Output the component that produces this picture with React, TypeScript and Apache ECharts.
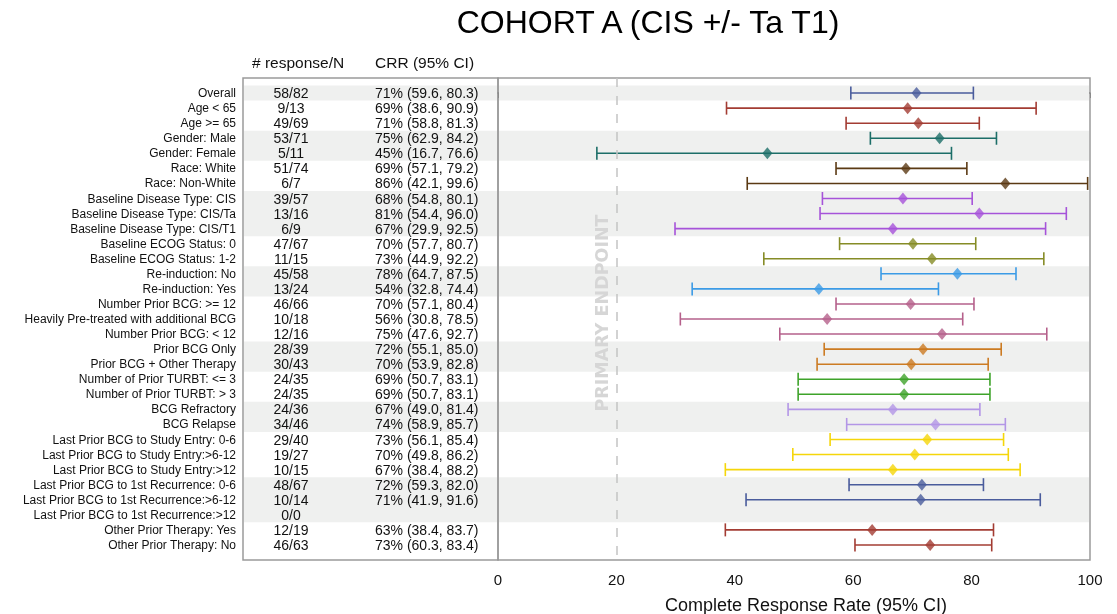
import React, { useEffect, useRef } from "react";
import * as echarts from "echarts";

const rowLabels = [
  "Overall",
  "Age < 65",
  "Age >= 65",
  "Gender: Male",
  "Gender: Female",
  "Race: White",
  "Race: Non-White",
  "Baseline Disease Type: CIS",
  "Baseline Disease Type: CIS/Ta",
  "Baseline Disease Type: CIS/T1",
  "Baseline ECOG Status: 0",
  "Baseline ECOG Status: 1-2",
  "Re-induction: No",
  "Re-induction: Yes",
  "Number Prior BCG: >= 12",
  "Heavily Pre-treated with additional BCG",
  "Number Prior BCG: < 12",
  "Prior BCG Only",
  "Prior BCG + Other Therapy",
  "Number of Prior TURBT: <= 3",
  "Number of Prior TURBT: > 3",
  "BCG Refractory",
  "BCG Relapse",
  "Last Prior BCG to Study Entry: 0-6",
  "Last Prior BCG to Study Entry:>6-12",
  "Last Prior BCG to Study Entry:>12",
  "Last Prior BCG to 1st Recurrence: 0-6",
  "Last Prior BCG to 1st Recurrence:>6-12",
  "Last Prior BCG to 1st Recurrence:>12",
  "Other Prior Therapy: Yes",
  "Other Prior Therapy: No",
];

const responders = [
  "58/82", "9/13", "49/69", "53/71", "5/11", "51/74", "6/7", "39/57", "13/16", "6/9",
  "47/67", "11/15", "45/58", "13/24", "46/66", "10/18", "12/16", "28/39", "30/43", "24/35",
  "24/35", "24/36", "34/46", "29/40", "19/27", "10/15", "48/67", "10/14", "0/0", "12/19", "46/63",
];

const crrText = [
  "71% (59.6, 80.3)", "69% (38.6, 90.9)", "71% (58.8, 81.3)", "75% (62.9, 84.2)", "45% (16.7, 76.6)",
  "69% (57.1, 79.2)", "86% (42.1, 99.6)", "68% (54.8, 80.1)", "81% (54.4, 96.0)", "67% (29.9, 92.5)",
  "70% (57.7, 80.7)", "73% (44.9, 92.2)", "78% (64.7, 87.5)", "54% (32.8, 74.4)", "70% (57.1, 80.4)",
  "56% (30.8, 78.5)", "75% (47.6, 92.7)", "72% (55.1, 85.0)", "70% (53.9, 82.8)", "69% (50.7, 83.1)",
  "69% (50.7, 83.1)", "67% (49.0, 81.4)", "74% (58.9, 85.7)", "73% (56.1, 85.4)", "70% (49.8, 86.2)",
  "67% (38.4, 88.2)", "72% (59.3, 82.0)", "71% (41.9, 91.6)", "", "63% (38.4, 83.7)", "73% (60.3, 83.4)",
];

const estimates = [
  70.7, 69.2, 71.0, 74.6, 45.5, 68.9, 85.7, 68.4, 81.3, 66.7,
  70.1, 73.3, 77.6, 54.2, 69.7, 55.6, 75.0, 71.8, 69.8, 68.6,
  68.6, 66.7, 73.9, 72.5, 70.4, 66.7, 71.6, 71.4, null, 63.2, 73.0,
];
const lowerCI = [
  59.6, 38.6, 58.8, 62.9, 16.7, 57.1, 42.1, 54.8, 54.4, 29.9,
  57.7, 44.9, 64.7, 32.8, 57.1, 30.8, 47.6, 55.1, 53.9, 50.7,
  50.7, 49.0, 58.9, 56.1, 49.8, 38.4, 59.3, 41.9, null, 38.4, 60.3,
];
const upperCI = [
  80.3, 90.9, 81.3, 84.2, 76.6, 79.2, 99.6, 80.1, 96.0, 92.5,
  80.7, 92.2, 87.5, 74.4, 80.4, 78.5, 92.7, 85.0, 82.8, 83.1,
  83.1, 81.4, 85.7, 85.4, 86.2, 88.2, 82.0, 91.6, null, 83.7, 83.4,
];

const groupSizes = [1, 2, 2, 2, 3, 2, 2, 3, 2, 2, 2, 3, 3, 2];
const groupColors = [
  "#4a5c9c", "#a33c33", "#1c6e68", "#5b3a14", "#a653d9", "#868c26", "#3b9be6",
  "#b5608b", "#cc7b22", "#3ea32a", "#b396e6", "#f5d60a", "#4a5c9c", "#a33c33",
];

const xTicks = [0, 20, 40, 60, 80, 100];
const refLine = 20;

const FONT = "'Liberation Sans', Arial, sans-serif";
const TABLE_LEFT = 243;
const PLOT_LEFT = 498;
const PLOT_RIGHT = 1090;
const TOP = 78;
const BOTTOM = 560;
const BAND = "#eff0ef";

export default function App() {
  const ref = useRef<HTMLDivElement>(null);
  useEffect(() => {
    if (!ref.current) return;
    const chart = echarts.init(ref.current, undefined, { renderer: "svg" });

    const rowColors: string[] = [];
    const bands: number[][] = [];
    let start = 0;
    groupSizes.forEach((n, g) => {
      for (let k = 0; k < n; k++) rowColors.push(groupColors[g]);
      if (g % 2 === 0) bands.push([start, start + n - 1]);
      start += n;
    });
    const nRows = rowLabels.length;

    const ciData: any[] = [];
    const ptData: any[] = [];
    for (let i = 0; i < nRows; i++) {
      if (lowerCI[i] != null && upperCI[i] != null) ciData.push([i, lowerCI[i], upperCI[i]]);
      if (estimates[i] != null)
        ptData.push({ value: [estimates[i], i], itemStyle: { color: rowColors[i] } });
    }
    const textData = rowLabels.map((_, i) => [i]);

    const option: any = {
      animation: false,
      textStyle: { fontFamily: FONT },
      grid: [
        {
          left: PLOT_LEFT, top: TOP, width: PLOT_RIGHT - PLOT_LEFT, height: BOTTOM - TOP,
          show: true, borderColor: "#9a9a9a", borderWidth: 1.5, backgroundColor: "transparent",
          containLabel: false, outerBoundsMode: "none",
        },
        {
          left: TABLE_LEFT, top: TOP, width: PLOT_LEFT - TABLE_LEFT, height: BOTTOM - TOP,
          show: true, borderColor: "#9a9a9a", borderWidth: 1.5, backgroundColor: "transparent",
          containLabel: false, outerBoundsMode: "none",
        },
      ],
      xAxis: [
        {
          gridIndex: 0, type: "value", min: 0, max: 100, interval: 10,
          axisLine: { show: true, lineStyle: { color: "#8a8a8a", width: 1.5 } },
          axisTick: { show: true, length: 5, lineStyle: { color: "#8a8a8a" } },
          splitLine: { show: false },
          axisLabel: {
            color: "#111", fontSize: 15, margin: 12,
            formatter: (v: number) => (xTicks.includes(v) ? String(v) : ""),
          },
          name: "Complete Response Rate (95% CI)",
          nameLocation: "middle", nameGap: 36,
          nameTextStyle: { fontSize: 18, color: "#111", padding: [0, 0, 0, 24] },
        },
        { gridIndex: 1, type: "value", min: 0, max: PLOT_LEFT - TABLE_LEFT, show: false },
      ],
      yAxis: [
        { gridIndex: 0, type: "value", min: -1, max: nRows, inverse: true, show: false },
        {
          gridIndex: 1, type: "value", min: -1, max: nRows, interval: 1, inverse: true,
          axisLine: { show: false }, axisTick: { show: false }, splitLine: { show: false },
          axisLabel: {
            margin: 7, fontSize: 12, color: "#111",
            formatter: (v: number) => (Number.isInteger(v) && v >= 0 && v < nRows ? rowLabels[v] : ""),
          },
        },
      ],
      graphic: [
        {
          type: "text", x: 648, y: 22,
          style: { text: "COHORT A (CIS +/- Ta T1)", font: `32px ${FONT}`, fill: "#000", align: "center", verticalAlign: "middle" },
        },
        {
          type: "text", x: 252, y: 62,
          style: { text: "# response/N", font: `15.5px ${FONT}`, fill: "#111", align: "left", verticalAlign: "middle" },
        },
        {
          type: "text", x: 375, y: 62,
          style: { text: "CRR (95% CI)", font: `15.5px ${FONT}`, fill: "#111", align: "left", verticalAlign: "middle" },
        },
        {
          type: "text", x: 602, y: 313, rotation: Math.PI / 2, z: 10,
          style: { text: "PRIMARY ENDPOINT", font: `bold 17.5px 'DejaVu Sans', ${FONT}`, fill: "#d6d6d6", align: "center", verticalAlign: "middle" },
        },
      ],
      series: [
        {
          type: "custom", xAxisIndex: 1, yAxisIndex: 1, silent: true, clip: false, z: 1,
          data: bands,
          renderItem: (params: any, api: any) => {
            const y0 = api.coord([0, api.value(0) - 0.5])[1];
            const y1 = api.coord([0, api.value(1) + 0.5])[1];
            return {
              type: "group",
              children: [
                { type: "rect", shape: { x: TABLE_LEFT + 1, y: y0, width: PLOT_LEFT - TABLE_LEFT - 2, height: y1 - y0 }, style: { fill: BAND } },
                { type: "rect", shape: { x: PLOT_LEFT + 1, y: y0, width: PLOT_RIGHT - PLOT_LEFT - 2, height: y1 - y0 }, style: { fill: BAND } },
              ],
            };
          },
        },
        {
          type: "custom", xAxisIndex: 1, yAxisIndex: 1, silent: true, clip: false, z: 3,
          data: textData,
          renderItem: (params: any, api: any) => {
            const i = api.value(0);
            const pc = api.coord([48, i]);
            const pr = api.coord([132, i]);
            return {
              type: "group",
              children: [
                { type: "text", x: pc[0], y: pc[1], style: { text: responders[i], font: `14px ${FONT}`, fill: "#111", align: "center", verticalAlign: "middle" } },
                { type: "text", x: pr[0], y: pr[1], style: { text: crrText[i], font: `14px ${FONT}`, fill: "#111", align: "left", verticalAlign: "middle" } },
              ],
            };
          },
        },
        {
          type: "custom", xAxisIndex: 0, yAxisIndex: 0, silent: true, clip: false, z: 3,
          data: ciData,
          renderItem: (params: any, api: any) => {
            const i = api.value(0);
            const p0 = api.coord([api.value(1), i]);
            const p1 = api.coord([api.value(2), i]);
            const c = rowColors[i];
            const h = 6.5;
            const st = { stroke: c, lineWidth: 1.6 };
            return {
              type: "group",
              children: [
                { type: "line", shape: { x1: p0[0], y1: p0[1], x2: p1[0], y2: p1[1] }, style: st },
                { type: "line", shape: { x1: p0[0], y1: p0[1] - h, x2: p0[0], y2: p0[1] + h }, style: st },
                { type: "line", shape: { x1: p1[0], y1: p1[1] - h, x2: p1[0], y2: p1[1] + h }, style: st },
              ],
            };
          },
        },
        {
          type: "scatter", xAxisIndex: 0, yAxisIndex: 0, z: 4,
          symbol: "diamond", symbolSize: [10, 12],
          data: ptData,
          markLine: {
            silent: true, symbol: ["none", "none"], label: { show: false },
            lineStyle: { color: "#c4c4c4", type: [9, 9], width: 1.5 },
            data: [{ xAxis: refLine }],
          },
        },
      ],
    };
    chart.setOption(option);
    return () => chart.dispose();
  }, []);
  return <div ref={ref} style={{ position: "fixed", left: 0, top: 0, width: 1117, height: 614 }} />;
}
